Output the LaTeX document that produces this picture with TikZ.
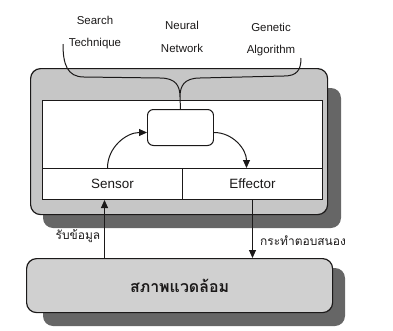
\documentclass[tikz,border=0pt]{standalone}
\usepackage{fontspec}
\setmainfont{Liberation Sans}
\newfontfamily\thaifont[Script=Thai]{Loma}
\usetikzlibrary{positioning,arrows.meta,calc}
\definecolor{ink}{HTML}{1B1919}
\definecolor{paleGrey}{HTML}{C6C6C6}
\definecolor{envGrey}{HTML}{D0D0D0}
\definecolor{darkGrey}{HTML}{666666}
\tikzset{
  lbl/.style={font=\fontsize{11.5}{23}\selectfont, text=ink, align=center, inner sep=0pt},
  thai/.style={font=\thaifont\fontsize{12}{14}\selectfont, text=ink, inner sep=0pt},
}

\begin{document}
\begin{tikzpicture}[x=1bp, y=-1bp,
  shade/.style={fill=darkGrey, rounded corners=10bp},
  panel/.style={draw=ink, line width=1.2pt, rounded corners=10bp, anchor=north west, inner sep=0pt},
  cell/.style={draw=ink, line width=1pt, fill=white, anchor=north west, inner sep=0pt, font=\fontsize{13.5}{16}\selectfont, text=ink},
  flow/.style={draw=ink, line width=1pt, -{Triangle[length=8bp,width=7bp]}}]
\useasboundingbox (0,0) rectangle (393,331);
% shadows
\fill[shade] (43,88) rectangle (341,228);
\fill[shade] (43,268) rectangle (345,326);
% agent
\node[panel, fill=paleGrey, minimum width=297bp, minimum height=146bp] (agent) at (30,68) {};
\node[cell, minimum width=280bp, minimum height=68bp] (work) at (42,100) {};
\node[cell, minimum width=140bp, minimum height=31bp] (sensor) at (42,168) {Sensor};
\node[cell, minimum width=140bp, minimum height=31bp] (effector) at (182,168) {Effector};
\node[cell, rounded corners=6bp, minimum width=66bp, minimum height=36bp] (brain) at (147,109) {};
% environment
\node[panel, fill=envGrey, minimum width=306bp, minimum height=54bp,
  font=\thaifont\bfseries\fontsize{16}{18}\selectfont, text=ink] (env) at (26,258) {สภาพแวดล้อม};
% techniques
\node[lbl] (search) at (95,32.5) {Search\\Technique};
\node[lbl] (neural) at (182,36.5) {Neural\\Network};
\node[lbl] (genetic) at (271,39.5) {Genetic\\Algorithm};
\coordinate (lTip) at (63,44);
\coordinate (rTip) at (301,58);
\coordinate (join) at (180,97);
\draw[ink, line width=1pt] (lTip) .. controls (63,64) and (67,77) .. (84,77) -- (160,78)
  .. controls (176,78) and (180,86) .. (join)
  .. controls (180,86) and (184,78) .. (200,78) -- (284,76)
  .. controls (297,76) and (301,70) .. (rTip);
\draw[ink, line width=1pt] (join) -- (brain.north);
% inside arrows
\draw[flow] ([xshift=-5bp]sensor.north) to[out=90, in=180] ([yshift=-5bp]brain.west);
\draw[flow] ([yshift=-5bp]brain.east) to[out=0, in=90] ([xshift=-6bp]effector.north);
% sense and act
\draw[flow] ([xshift=-8bp]sensor.south |- env.north) -- ([xshift=-8bp]sensor.south);
\draw[flow] (effector.south) -- (effector.south |- env.north);
\node[thai] (getIn) at (78,236) {รับข้อมูล};
\node[thai] (actOut) at (303,241) {กระทำตอบสนอง};
\end{tikzpicture}
\end{document}
